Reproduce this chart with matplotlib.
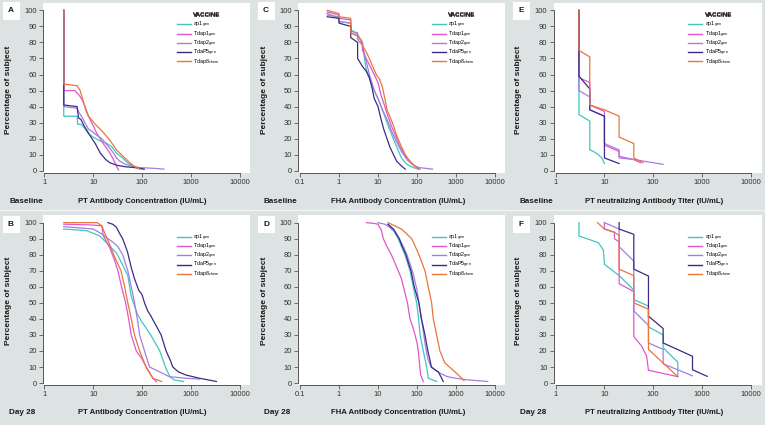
import numpy as np
import matplotlib
matplotlib.use('Agg')
import matplotlib.pyplot as plt
from matplotlib.ticker import FixedLocator, NullLocator, FixedFormatter
from matplotlib.patches import Rectangle
from matplotlib.lines import Line2D

plt.rcParams['font.family'] = ['Liberation Sans', 'DejaVu Sans']
plt.rcParams['mathtext.fontset'] = 'custom'
plt.rcParams['mathtext.rm'] = 'Liberation Sans'
plt.rcParams['mathtext.it'] = 'Liberation Sans:italic'
plt.rcParams['mathtext.bf'] = 'Liberation Sans:bold'

# ---------------- data ----------------
series = ['ap1', 'Tdap1', 'Tdap2', 'TdaP5', 'Tdap8']
legend_labels = [r'ap1$_{\mathrm{gen}}$', r'Tdap1$_{\mathrm{gen}}$', r'Tdap2$_{\mathrm{gen}}$',
                 r'TdaP5$_{\mathrm{gen}}$', r'Tdap8$_{\mathrm{chem}}$']
legend_title = 'VACCINE'
colors = ['#3fc6bf', '#e056cf', '#a47ddf', '#3a2c86', '#e9763b']

panel_letters = ['A', 'C', 'E', 'B', 'D', 'F']
timepoints = ['Baseline', 'Baseline', 'Baseline', 'Day 28', 'Day 28', 'Day 28']
xlabels = ['PT Antibody Concentration (IU/mL)', 'FHA Antibody Concentration (IU/mL)',
           'PT neutralizing Antibody Titer (IU/mL)']
ylabel = 'Percentage of subject'
yticks = [0, 10, 20, 30, 40, 50, 60, 70, 80, 90, 100]
xticks_pt = [1, 10, 100, 1000, 10000]
xticklabels_pt = ['1', '10', '100', '1000', '10000']
xticks_fha = [0.1, 1, 10, 100, 1000, 10000]
xticklabels_fha = ['0.1', '1', '10', '100', '1000', '10000']

# Panel A: Baseline PT
A_ap1_x = [2.5, 2.5, 4.7, 4.8, 5.6, 6.5, 8, 10, 13, 19, 24, 30, 40, 50, 65, 85, 110]
A_ap1_y = [100, 34, 34, 29, 29, 27, 23, 21, 19, 17, 15, 11, 8, 5, 3, 2, 1]
A_Tdap1_x = [2.5, 2.5, 4.2, 5.2, 6.0, 6.8, 8, 10, 12, 16, 22, 28, 31, 33]
A_Tdap1_y = [100, 50, 50, 47, 44, 40, 34, 28, 23, 17, 11, 5, 2, 0.5]
A_Tdap2_x = [2.5, 2.5, 4.6, 5.2, 6, 7, 8, 10, 12, 15, 18, 22, 26, 30, 35, 45, 60, 80, 120, 200, 280]
A_Tdap2_y = [100, 40, 39, 36, 33, 29, 26, 24, 22, 20, 17, 14, 11, 8, 6, 4, 3, 2, 1.8, 1.4, 1]
A_TdaP5_x = [2.5, 2.5, 4.7, 5.0, 5.6, 6.5, 7.5, 9, 11, 14, 18, 22, 30, 45, 70, 110]
A_TdaP5_y = [100, 41, 40, 33, 32, 28, 25, 21, 17, 11, 7, 5, 3.5, 2.5, 2, 1]
A_Tdap8_x = [2.5, 2.5, 4.7, 5.4, 6.2, 7, 8, 11, 16, 22, 30, 41, 56, 71, 90]
A_Tdap8_y = [100, 54, 53, 50, 44, 38, 34, 29, 24, 19, 13, 9, 5, 2.5, 1]

# Panel C: Baseline FHA
C_ap1_x = [0.5, 1, 1, 2, 2, 3, 4, 4.5, 5, 6, 8, 10, 13, 17, 22, 30, 40, 55, 80, 110]
C_ap1_y = [97, 96, 93, 92, 88, 85, 80, 70, 63, 58, 50, 45, 38, 30, 23, 15, 8, 4, 2, 1]
C_Tdap1_x = [0.5, 1, 1, 2, 2, 3, 4, 4, 5, 6, 8, 10, 12, 15, 18, 22, 28, 35, 45, 60, 80, 100, 120]
C_Tdap1_y = [99, 97, 95, 94, 86, 84, 80, 75, 70, 66, 60, 55, 47, 40, 34, 28, 22, 16, 11, 7, 4, 2, 1]
C_Tdap2_x = [0.5, 1, 1, 2, 2, 3, 3, 4, 5, 6, 8, 10, 13, 17, 22, 30, 40, 55, 75, 110, 170, 250]
C_Tdap2_y = [98, 95, 93, 92, 87, 86, 82, 78, 68, 60, 50, 45, 38, 32, 25, 18, 12, 7, 4, 2, 1.5, 1]
C_TdaP5_x = [0.5, 1, 1, 2, 2, 3, 3, 4, 5, 6, 7, 8, 10, 12, 14, 17, 20, 25, 30, 40, 50]
C_TdaP5_y = [96, 95, 92, 90, 83, 80, 70, 65, 62, 58, 52, 45, 40, 32, 26, 20, 15, 10, 6, 3, 1]
C_Tdap8_x = [0.5, 1, 1, 2, 2, 3, 3.5, 4, 5, 6, 7, 9, 11, 13, 15, 17, 20, 25, 30, 40, 50, 65, 85, 110]
C_Tdap8_y = [100, 98, 96, 95, 86, 84, 82, 78, 74, 70, 66, 60, 57, 52, 45, 38, 34, 28, 22, 15, 10, 6, 3, 1]

# Panel E: Baseline PT neutralizing
E_ap1_x = [3, 3, 5, 5, 6, 7.5, 8.8, 10]
E_ap1_y = [100, 35, 31, 13, 12, 10, 8, 4.6]
E_Tdap1_x = [3, 3, 5, 5, 10, 10, 20, 20, 40, 55]
E_Tdap1_y = [100, 58, 55, 41, 37, 16, 12, 9, 7, 5]
E_Tdap2_x = [3, 3, 5, 5, 10, 10, 20, 20, 40, 80, 160]
E_Tdap2_y = [100, 50, 46, 38, 34, 17, 13, 8, 7, 5.5, 4]
E_TdaP5_x = [3, 3, 5, 5, 10, 10, 20]
E_TdaP5_y = [100, 59, 51, 38, 34, 8, 4.5]
E_Tdap8_x = [3, 3, 5, 5, 10, 20, 20, 40, 40, 62]
E_Tdap8_y = [100, 75, 71, 41, 38, 34, 21, 17, 8, 5]

# Panel B: Day 28 PT
B_ap1_x = [2.5, 7.3, 13.6, 18.6, 30, 41, 51, 60, 80, 100, 150, 230, 300, 370, 450, 700]
B_ap1_y = [96, 95, 91.7, 87.5, 81, 73, 67, 54, 43, 38, 30, 20, 10, 4, 2, 1]
B_Tdap1_x = [2.5, 10, 15, 16, 18, 22, 27, 32, 38, 46, 53, 60, 76, 100, 121, 166, 195]
B_Tdap1_y = [99, 98.5, 98, 92, 89, 84, 77, 70, 60, 50, 40, 30, 20, 15, 10, 3, 1]
B_Tdap2_x = [2.5, 10, 15, 20, 25, 32, 40, 51, 60, 70, 80, 89, 112, 142, 195, 360, 800, 1500]
B_Tdap2_y = [97.5, 96, 93, 90, 88, 85, 80, 70, 60, 50, 40, 30, 20, 10, 8, 4, 3, 2.5]
B_TdaP5_x = [20, 25, 30, 35, 40, 50, 60, 70, 85, 100, 112, 130, 150, 200, 245, 310, 380, 425, 550, 790, 1500, 3300]
B_TdaP5_y = [100, 99, 97, 93, 90, 82, 72, 65, 58, 55, 50, 45, 42, 35, 30, 20, 14, 10, 7, 5, 3, 1]
B_Tdap8_x = [2.5, 12, 15, 18, 22, 28, 37, 44, 51, 60, 70, 89, 121, 166, 250]
B_Tdap8_y = [100, 100, 98, 92, 86, 78, 70, 60, 50, 40, 30, 20, 10, 3, 1]

# Panel D: Day 28 FHA
D_ap1_x = [18, 25, 33, 40, 49, 57, 66, 80, 98, 110, 120, 145, 177, 195, 250, 320]
D_ap1_y = [99, 95, 90, 85, 80, 75, 70, 60, 50, 40, 30, 20, 10, 3, 2, 1]
D_Tdap1_x = [5, 8, 10, 11, 12, 13.7, 17, 22, 27, 33, 40, 45, 57, 66, 78, 89, 100, 108, 124, 145]
D_Tdap1_y = [100, 99.5, 99, 97, 96, 90, 85, 80, 75, 70, 65, 60, 50, 40, 35, 30, 25, 20, 5, 1]
D_Tdap2_x = [10, 15, 20, 28, 35, 45, 55, 65, 80, 100, 120, 140, 160, 190, 230, 300, 400, 600, 1000, 2000, 6500]
D_Tdap2_y = [100, 99, 97, 94, 90, 85, 80, 75, 68, 58, 45, 35, 25, 15, 10, 8, 6, 4, 3, 2, 1]
D_TdaP5_x = [18, 25, 35, 42, 52, 60, 70, 85, 112, 130, 160, 190, 235, 300, 350, 430, 470]
D_TdaP5_y = [99, 96, 90, 85, 80, 75, 70, 60, 50, 40, 30, 20, 10, 8, 7, 3, 1]
D_Tdap8_x = [18, 40, 73, 108, 160, 194, 237, 262, 318, 386, 520, 940, 1400, 1600]
D_Tdap8_y = [100, 96, 90, 81, 70, 60, 50, 40, 30, 20, 12.5, 7, 3, 1.5]

# Panel F: Day 28 PT neutralizing
F_ap1_x = [3, 3, 7.5, 9.5, 10, 20, 40, 40, 80, 80, 160, 160, 320, 320]
F_ap1_y = [100, 91.7, 87.5, 83, 74, 67, 58, 52, 48, 35, 30, 22, 13, 4.5]
F_Tdap1_x = [10, 10, 16, 16, 20, 20, 40, 40, 58, 73, 80, 320]
F_Tdap1_y = [100, 96, 94, 90, 88, 62, 57, 29, 23, 17, 8, 4]
F_Tdap2_x = [10, 20, 20, 40, 40, 80, 80, 160, 160, 640]
F_Tdap2_y = [100, 96, 85, 76, 45, 36, 25, 21, 12, 4.5]
F_TdaP5_x = [20, 20, 40, 40, 80, 80, 160, 160, 640, 640, 1280]
F_TdaP5_y = [100, 96, 92.7, 71, 66.7, 41.7, 34, 25, 16.7, 8.3, 4.2]
F_Tdap8_x = [7.2, 10, 16, 20, 20, 40, 40, 80, 80, 160, 320]
F_Tdap8_y = [100, 96, 94, 92, 71, 67, 50, 46, 21, 12.5, 4]

g = globals()

# ---------------- layout (pixels) ----------------
W, H = 765, 425
fig = plt.figure(figsize=(W / 100, H / 100), dpi=100)
fig.patch.set_facecolor('#dde2e3')

# column geometry: left px, right px, log10(xmin), log10(xmax)
cols = [
    (43.3, 250.0, -0.0204, 4.2065),
    (298.0, 505.0, -1.051, 4.256),
    (553.5, 762.0, -0.045, 4.232),
]
rows_bottom = [172.7, 385.0]
ax_h = 169.6
ylo, yhi = -1.2, 104.5

panel_keys = ['A', 'C', 'E', 'B', 'D', 'F']
ylab_x = [9, 264, 519]
xlab_cx = [142, 398, 654]
tp_x = [9, 264, 520]
letter_x = [11, 266, 521]
row_ylab_cy = [90, 301]
row_xlab_y = [201.5, 412.5]
row_letter_y = [11, 224]

tick_color = '#333333'
fs_tick = 5.5

for i, key in enumerate(panel_keys):
    r, c = divmod(i, 3)
    L, R, lx0, lx1 = cols[c]
    B = rows_bottom[r]
    ax = fig.add_axes([L / W, 1 - B / H, (R - L) / W, ax_h / H])
    ax.set_facecolor('white')
    for s, col in zip(series, colors):
        ax.plot(g[f'{key}_{s}_x'], g[f'{key}_{s}_y'], color=col, lw=0.9,
                solid_joinstyle='miter')
    ax.set_xscale('log')
    ax.set_xlim(10 ** lx0, 10 ** lx1)
    ax.set_ylim(ylo, yhi)
    if c == 1:
        xt, xtl = xticks_fha, xticklabels_fha
    else:
        xt, xtl = xticks_pt, xticklabels_pt
    ax.xaxis.set_major_locator(FixedLocator(xt))
    ax.xaxis.set_major_formatter(FixedFormatter(xtl))
    ax.xaxis.set_minor_locator(NullLocator())
    ax.set_yticks(yticks)
    for sp in ['top', 'right']:
        ax.spines[sp].set_visible(False)
    ax.spines['left'].set_bounds(0, 100)
    ax.spines['bottom'].set_bounds(xt[0], xt[-1])
    for sp in ['left', 'bottom']:
        ax.spines[sp].set_color('#555555')
        ax.spines[sp].set_linewidth(0.7)
    ax.tick_params(axis='both', which='major', labelsize=fs_tick, length=2.6,
                   width=0.6, color='#555555', labelcolor=tick_color, pad=1.8)

    # legend (title drawn separately)
    handles = [Line2D([], [], color=col, lw=1.0) for col in colors]
    ax.legend(handles, legend_labels, loc='upper left',
              bbox_to_anchor=(0.645, 0.900), frameon=False, fontsize=3.9,
              handlelength=2.6, handletextpad=0.5, labelspacing=-0.17,
              borderpad=0.0, borderaxespad=0.0)
    ax.text(0.792, 1 - (15 - (B - ax_h)) / ax_h, legend_title, transform=ax.transAxes,
            ha='center', va='center', fontsize=4.5, fontweight='bold', color='#1a1a1a')

    # text around the panel
    fig.text(ylab_x[c] / W, 1 - row_ylab_cy[r] / H, ylabel,
             rotation=90, ha='center', va='center', fontsize=6, fontweight='bold',
             color='#1a1a1a')
    fig.text(xlab_cx[c] / W, 1 - row_xlab_y[r] / H, xlabels[c], ha='center',
             va='center', fontsize=5.6, fontweight='bold', color='#1a1a1a')
    fig.text(tp_x[c] / W, 1 - row_xlab_y[r] / H, timepoints[i], ha='left',
             va='center', fontsize=5.9, fontweight='bold', color='#1a1a1a')
    lx, ly = letter_x[c], row_letter_y[r]
    fig.patches.append(Rectangle(((lx - 8.5) / W, 1 - (ly + 8.5) / H), 17 / W, 17 / H,
                                 transform=fig.transFigure, facecolor='white',
                                 edgecolor='none', zorder=0.5))
    fig.text(lx / W, 1 - ly / H, panel_letters[i], ha='center', va='center',
             fontsize=6, fontweight='bold', color='#1a1a1a')

# thin light separator between rows
fig.add_artist(Line2D([0, 1], [1 - 209.5 / H, 1 - 209.5 / H], transform=fig.transFigure,
                      color='#f4f6f6', lw=0.8))

fig.savefig('out.png', dpi=100, facecolor=fig.get_facecolor())
